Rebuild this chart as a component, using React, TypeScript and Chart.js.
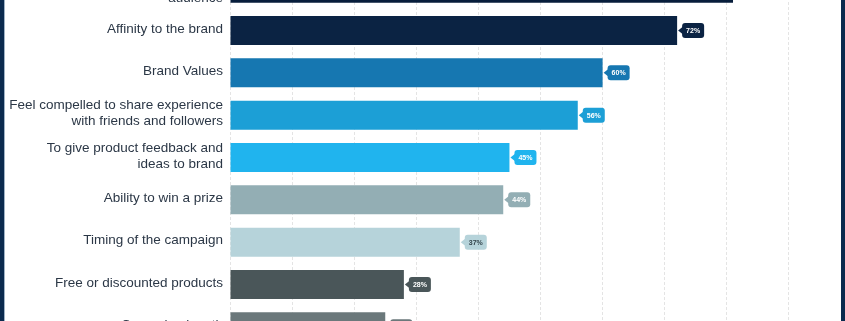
import React, { useEffect, useRef } from "react";
import { Chart, registerables } from "chart.js";

Chart.register(...registerables);

const categories: (string | string[])[] = [
  ["Opportunity to reach a new", "audience"],
  "Affinity to the brand",
  "Brand Values",
  ["Feel compelled to share experience", "with friends and followers"],
  ["To give product feedback and", "ideas to brand"],
  "Ability to win a prize",
  "Timing of the campaign",
  "Free or discounted products",
  "Campaign length",
];

const values: number[] = [81, 72, 60, 56, 45, 44, 37, 28, 25];

const barColors: string[] = [
  "#071d3b",
  "#0b2343",
  "#1677b1",
  "#1c9fd6",
  "#20b4ee",
  "#93aeb4",
  "#b6d3da",
  "#4a5659",
  "#6b787b",
];

const tagTextColors: string[] = [
  "#ffffff",
  "#ffffff",
  "#ffffff",
  "#ffffff",
  "#ffffff",
  "#ffffff",
  "#34454c",
  "#ffffff",
  "#ffffff",
];

const tagPlugin = {
  id: "tagPlugin",
  afterDatasetsDraw(chart: any) {
    const ctx = chart.ctx;
    const meta = chart.getDatasetMeta(0);
    ctx.save();
    ctx.font = "bold 7px 'Liberation Sans', Arial, sans-serif";
    meta.data.forEach((bar: any, i: number) => {
      const text = values[i] + "%";
      const x = bar.x;
      const y = bar.y;
      const w = ctx.measureText(text).width + 8;
      const h = 15;
      const rx = x + 5;
      const ry = y - h / 2;
      ctx.fillStyle = barColors[i];
      ctx.beginPath();
      ctx.moveTo(x + 1, y);
      ctx.lineTo(rx + 1, y - 4);
      ctx.lineTo(rx + 1, y + 4);
      ctx.closePath();
      ctx.fill();
      ctx.beginPath();
      (ctx as any).roundRect(rx, ry, w, h, 3);
      ctx.fill();
      ctx.fillStyle = tagTextColors[i];
      ctx.textAlign = "center";
      ctx.textBaseline = "middle";
      ctx.fillText(text, rx + w / 2, y + 0.5);
    });
    ctx.restore();
  },
};

export default function App() {
  const canvasRef = useRef<HTMLCanvasElement | null>(null);

  useEffect(() => {
    if (!canvasRef.current) return;
    const chart = new Chart(canvasRef.current, {
      type: "bar",
      data: {
        labels: categories,
        datasets: [
          {
            data: values,
            backgroundColor: barColors,
            borderWidth: 0,
            categoryPercentage: 1,
            barPercentage: 0.685,
          },
        ],
      },
      options: {
        indexAxis: "y",
        responsive: false,
        animation: false,
        layout: { padding: 0 },
        plugins: {
          legend: { display: false },
          tooltip: { enabled: false },
        },
        scales: {
          x: {
            min: 0,
            max: 100,
            ticks: { display: false, stepSize: 10 },
            grid: { color: "#e4e4e4", drawTicks: false, lineWidth: 1 },
            border: { display: false, dash: [3, 2] },
            afterFit: (s: any) => {
              s.height = 0;
              s.paddingLeft = 0;
              s.paddingRight = 0;
            },
          },
          y: {
            grid: { display: false, drawTicks: false },
            border: { display: false },
            ticks: {
              autoSkip: false,
              color: "#2b3746",
              padding: 7,
              labelOffset: -1.5,
              font: (c: any) => ({
                family: "'Liberation Sans', Arial, sans-serif",
                size: 13.5,
                lineHeight: c.index === 0 ? 1.75 : 1.18,
              }),
            },
            afterFit: (s: any) => {
              s.width = 230;
              s.paddingTop = 0;
              s.paddingBottom = 0;
            },
          },
        },
      },
      plugins: [tagPlugin],
    } as any);
    return () => chart.destroy();
  }, []);

  return (
    <div
      style={{
        position: "fixed",
        left: 0,
        top: 0,
        width: 845,
        height: 321,
        overflow: "hidden",
        background: "#ffffff",
      }}
    >
      <canvas
        ref={canvasRef}
        width={851}
        height={381}
        style={{ position: "absolute", left: 0, top: -33 }}
      />
      <div style={{ position: "absolute", left: 0, top: 0, width: 4, height: 321, background: "#0b2a4e" }} />
      <div style={{ position: "absolute", left: 4, top: 0, width: 1, height: 321, background: "#9fb3c6" }} />
      <div style={{ position: "absolute", left: 841, top: 0, width: 4, height: 321, background: "#0b2a4e" }} />
    </div>
  );
}
